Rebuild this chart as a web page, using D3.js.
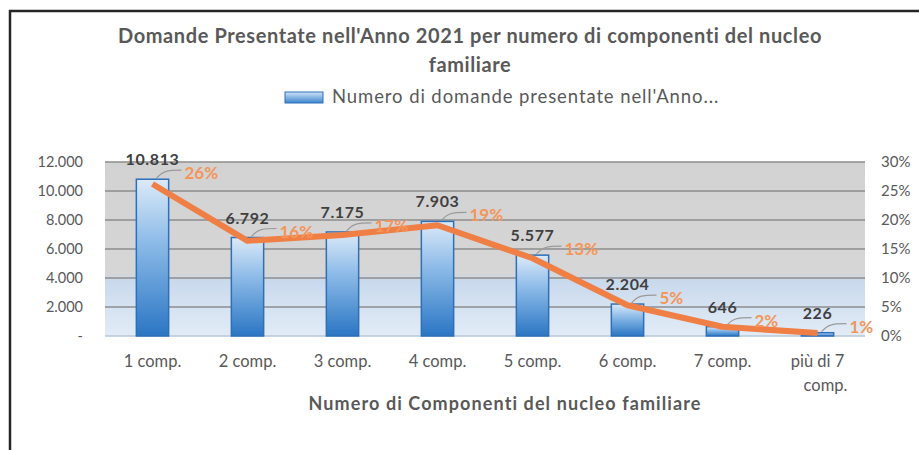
<!DOCTYPE html>
<html>
<head>
<meta charset="utf-8">
<script src="https://cdn.jsdelivr.net/npm/d3@7"></script>
<style>
  body { margin: 0; background: #fff; }
  svg { display: block; font-family: Lato, "Open Sans", sans-serif; }
</style>
</head>
<body>
<svg id="chart"></svg>
<script>
var width = 919,
    height = 450,
    margin = { top: 162, right: 54, bottom: 114, left: 105 }

var categories = ["1 comp.", "2 comp.", "3 comp.", "4 comp.", "5 comp.", "6 comp.", "7 comp.", "più di 7 comp."]
var domande = [10813, 6792, 7175, 7903, 5577, 2204, 646, 226]
var percentuali = [0.262, 0.164, 0.174, 0.191, 0.134, 0.053, 0.016, 0.005]
var leftTicks = [0, 2000, 4000, 6000, 8000, 10000, 12000]
var rightTicks = [0, 0.05, 0.10, 0.15, 0.20, 0.25, 0.30]

var titleLines = ["Domande Presentate nell'Anno 2021 per numero di componenti del nucleo", "familiare"]
var legendLabel = "Numero di domande presentate nell'Anno..."
var xAxisTitle = "Numero di Componenti del nucleo familiare"

var it = d3.formatLocale({ decimal: ",", thousands: ".", grouping: [3], currency: ["€", ""] })
var fmtNum = it.format(",d")

var svg = d3.select("#chart").attr("width", width).attr("height", height)

var defs = svg.append("defs")
var bg = defs.append("linearGradient").attr("id", "bg").attr("x1", 0).attr("y1", 0).attr("x2", 0).attr("y2", 1)
bg.append("stop").attr("offset", "0%").attr("stop-color", "#d2d2d2")
bg.append("stop").attr("offset", "64%").attr("stop-color", "#d6d6d6")
bg.append("stop").attr("offset", "68%").attr("stop-color", "#c9d9ec")
bg.append("stop").attr("offset", "100%").attr("stop-color", "#e2ecf7")

var barGrad = defs.append("linearGradient").attr("id", "barGrad").attr("x1", 0).attr("y1", 0).attr("x2", 0).attr("y2", 1)
barGrad.append("stop").attr("offset", "0%").attr("stop-color", "#dceaf8")
barGrad.append("stop").attr("offset", "40%").attr("stop-color", "#8dbbe8")
barGrad.append("stop").attr("offset", "100%").attr("stop-color", "#2a76c4")

// frame
svg.append("path")
    .attr("d", "M10,452 L10,11 L921,11")
    .attr("fill", "none").attr("stroke", "#262626").attr("stroke-width", 2.5)

var x = d3.scaleBand().domain(categories)
    .range([margin.left, width - margin.right])
    .paddingInner(0.66).paddingOuter(0.33)

var y = d3.scaleLinear().domain([0, 12000]).range([height - margin.bottom, margin.top])
var y2 = d3.scaleLinear().domain([0, 0.30]).range([height - margin.bottom, margin.top])

var plotW = width - margin.left - margin.right
var plotH = height - margin.top - margin.bottom

svg.append("rect")
    .attr("x", margin.left).attr("y", margin.top)
    .attr("width", plotW).attr("height", plotH)
    .attr("fill", "url(#bg)")

// gridlines
svg.append("g").selectAll("line").data(leftTicks).enter().append("line")
    .attr("x1", margin.left).attr("x2", width - margin.right)
    .attr("y1", d => y(d)).attr("y2", d => y(d))
    .attr("stroke", d => d === 0 ? "#b8c7d8" : "#8c8c8c")
    .attr("stroke-width", 1.5)

// left axis
var yAxis = svg.append("g")
    .attr("transform", "translate(" + (margin.left - 19) + ",0)")
    .call(d3.axisLeft(y).tickValues(leftTicks).tickSize(0)
        .tickFormat(d => d === 0 ? "-   " : fmtNum(d)))
yAxis.select(".domain").remove()
yAxis.selectAll("text").attr("font-size", 14.5).attr("fill", "#595959")
    .attr("font-family", "Lato, sans-serif")

// right axis
var yAxisR = svg.append("g")
    .attr("transform", "translate(" + (width - margin.right + 13) + ",0)")
    .call(d3.axisRight(y2).tickValues(rightTicks).tickSize(0).tickFormat(d3.format(".0%")))
yAxisR.select(".domain").remove()
yAxisR.selectAll("text").attr("font-size", 15).attr("fill", "#595959")
    .attr("font-family", "Lato, sans-serif")

// bars
svg.append("g").selectAll("rect").data(domande).enter().append("rect")
    .attr("x", (d, i) => x(categories[i]))
    .attr("y", d => y(d))
    .attr("width", x.bandwidth())
    .attr("height", d => y(0) - y(d))
    .attr("fill", "url(#barGrad)")
    .attr("stroke", "#2e6fb7")
    .attr("stroke-width", 1.5)

// x axis labels
var xAxis = svg.append("g")
    .attr("transform", "translate(0," + (height - margin.bottom + 14) + ")")
    .call(d3.axisBottom(x).tickSize(0))
xAxis.select(".domain").remove()
xAxis.selectAll("text").remove()
xAxis.selectAll(".tick").each(function(d) {
    var t = d3.select(this).append("text")
        .attr("fill", "#595959").attr("font-size", 16.5)
        .attr("font-family", "Lato, sans-serif")
        .attr("text-anchor", "middle")
    if (d === "più di 7 comp.") {
        t.append("tspan").attr("x", 0).attr("y", 17).text("più di 7")
        t.append("tspan").attr("x", 8).attr("y", 41).text("comp.")
    } else {
        t.attr("y", 17).text(d)
    }
})

// leader lines
svg.append("g").selectAll("path").data(domande).enter().append("path")
    .attr("d", function(d, i) {
        var cx = x(categories[i]) + x.bandwidth() / 2, t = y(d)
        return "M" + (cx + 4) + "," + (t - 1) + " C" + (cx + 10) + "," + (t - 8) + " " +
            (cx + 14) + "," + (t - 9) + " " + (cx + 29) + "," + (t - 9)
    })
    .attr("fill", "none").attr("stroke", "#9a9a9a").attr("stroke-width", 1.2)

// percentage line
var line = d3.line()
    .x((d, i) => x(categories[i]) + x.bandwidth() / 2)
    .y(d => y2(d))
svg.append("path").datum(percentuali)
    .attr("d", line)
    .attr("fill", "none")
    .attr("stroke", "#ef7f45")
    .attr("stroke-width", 6)
    .attr("stroke-linejoin", "round")

// value labels
svg.append("g").selectAll("text").data(domande).enter().append("text")
    .attr("x", (d, i) => x(categories[i]) + x.bandwidth() / 2)
    .attr("y", d => y(d) - 14)
    .attr("text-anchor", "middle")
    .attr("font-size", 16).attr("font-weight", "bold")
    .attr("letter-spacing", 0.6)
    .attr("fill", "#404040")
    .text(d => fmtNum(d))

// percentage labels
svg.append("g").selectAll("text").data(percentuali).enter().append("text")
    .attr("x", (d, i) => x(categories[i]) + x.bandwidth() / 2 + 32)
    .attr("y", (d, i) => y(domande[i]))
    .attr("font-size", 17).attr("font-weight", "bold")
    .attr("fill", "#f4955a")
    .text(d => d3.format(".0%")(d))

// title
svg.append("text")
    .attr("x", 470).attr("y", 43)
    .attr("text-anchor", "middle")
    .attr("font-size", 20).attr("font-weight", "bold").attr("fill", "#595959")
    .attr("letter-spacing", 0.6)
    .text(titleLines[0])
svg.append("text")
    .attr("x", 470).attr("y", 72)
    .attr("text-anchor", "middle")
    .attr("font-size", 20).attr("font-weight", "bold").attr("fill", "#595959")
    .attr("letter-spacing", 0.6)
    .text(titleLines[1])

// legend
var legGrad = defs.append("linearGradient").attr("id", "legGrad").attr("x1", 0).attr("y1", 0).attr("x2", 0).attr("y2", 1)
legGrad.append("stop").attr("offset", "0%").attr("stop-color", "#cfe2f5")
legGrad.append("stop").attr("offset", "100%").attr("stop-color", "#3b86cf")
svg.append("rect")
    .attr("x", 285).attr("y", 92).attr("width", 38).attr("height", 11)
    .attr("fill", "url(#legGrad)").attr("stroke", "#2e6fb7").attr("stroke-width", 1)
svg.append("text")
    .attr("x", 332).attr("y", 103)
    .attr("font-size", 18.5).attr("fill", "#595959")
    .attr("letter-spacing", 0.9)
    .text(legendLabel)

// x axis title
svg.append("text")
    .attr("x", 505).attr("y", 410)
    .attr("text-anchor", "middle")
    .attr("font-size", 18).attr("font-weight", "bold").attr("fill", "#595959")
    .attr("letter-spacing", 1.1)
    .text(xAxisTitle)
</script>
</body>
</html>
